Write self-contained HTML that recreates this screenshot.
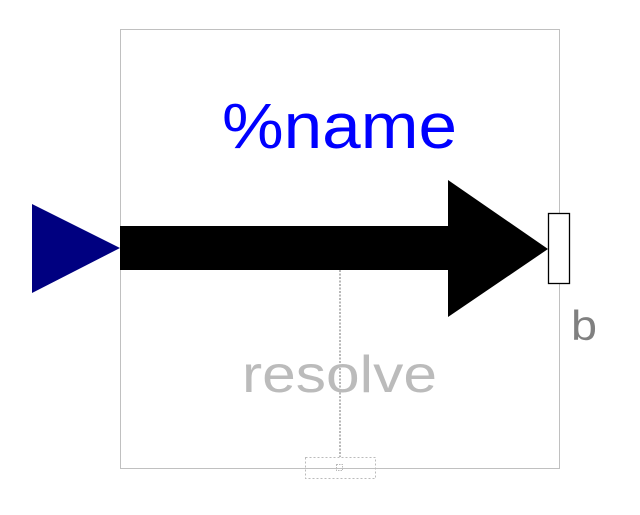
<!DOCTYPE html>
<html><head><style>body{margin:0;background:#fff}</style></head><body>
<svg width="640" height="510" xmlns="http://www.w3.org/2000/svg" font-family="Liberation Sans, sans-serif">
<rect x="120.5" y="29.5" width="439" height="439" fill="none" stroke="#c0c0c0" stroke-width="1"/>
<polygon points="120,226 448,226 448,180 548,249 448,317 448,270 120,270" fill="#000"/>
<polygon points="32,204 120,248 32,293" fill="#000080"/>
<rect x="548.5" y="213.5" width="21" height="70" fill="#fff" stroke="#000" stroke-width="1.3"/>
<line x1="340" y1="270" x2="340" y2="457" stroke="#888" stroke-width="1.2" stroke-dasharray="2,1.5"/>
<rect x="305.5" y="457.5" width="70" height="21" fill="none" stroke="#bbb" stroke-width="1" stroke-dasharray="2,2"/>
<rect x="336.5" y="464.5" width="6" height="6" fill="none" stroke="#bbb" stroke-width="1" stroke-dasharray="1.5,1"/>
<text x="222" y="148" font-size="64" fill="#0000ff" textLength="235" lengthAdjust="spacingAndGlyphs">%name</text>
<text x="242" y="392" font-size="52" fill="#bbbbbb" textLength="195" lengthAdjust="spacingAndGlyphs">resolve</text>
<text x="571" y="340" font-size="42" fill="#808080" textLength="26" lengthAdjust="spacingAndGlyphs">b</text>
</svg>
</body></html>
